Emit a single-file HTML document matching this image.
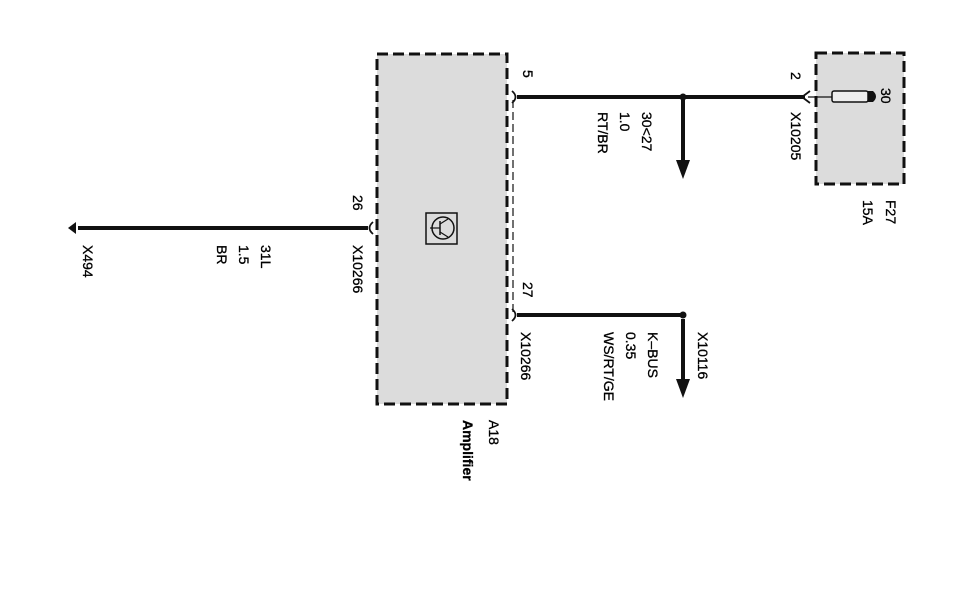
<!DOCTYPE html>
<html><head><style>
html,body{margin:0;padding:0;background:#fff;}
svg{display:block;}
text{font-family:"Liberation Sans",sans-serif;font-size:14px;fill:#000;stroke:#000;stroke-width:0.3;}
</style></head><body>
<svg width="973" height="609" viewBox="0 0 973 609">
<!-- amplifier box -->
<rect x="377" y="54" width="130" height="350" fill="#dcdcdc" stroke="#111" stroke-width="3" stroke-dasharray="11,5"/>
<line x1="513" y1="100" x2="513" y2="312" stroke="#111" stroke-width="1.2" stroke-dasharray="8,4"/>
<!-- fuse box -->
<rect x="816" y="53" width="88" height="131" fill="#dcdcdc" stroke="#111" stroke-width="3" stroke-dasharray="11,5"/>
<!-- transistor icon -->
<rect x="426" y="213" width="31" height="31" fill="none" stroke="#111" stroke-width="1.5"/>
<circle cx="443" cy="228" r="11" fill="none" stroke="#111" stroke-width="1.5"/>
<line x1="440" y1="221" x2="440" y2="235" stroke="#111" stroke-width="1.5"/>
<line x1="430" y1="228" x2="440" y2="228" stroke="#111" stroke-width="1.2"/>
<line x1="440" y1="224" x2="448" y2="219" stroke="#111" stroke-width="1.2"/>
<line x1="440" y1="232" x2="448" y2="237" stroke="#111" stroke-width="1.2"/>
<!-- wire 5 -->
<line x1="517" y1="97" x2="805" y2="97" stroke="#111" stroke-width="4"/>
<path d="M512 91 Q519 97 512 103" fill="none" stroke="#111" stroke-width="1.8"/>
<path d="M810 91 L802 97 L810 103" fill="none" stroke="#111" stroke-width="1.8"/>
<circle cx="683" cy="97" r="3.5" fill="#111"/>
<line x1="683" y1="100" x2="683" y2="163" stroke="#111" stroke-width="4"/>
<polygon points="676,160 690,160 683,179" fill="#111"/>
<!-- fuse -->
<line x1="808" y1="97" x2="832" y2="97" stroke="#111" stroke-width="1.2"/>
<rect x="832" y="91" width="36" height="11" rx="2" fill="#eee" stroke="#111" stroke-width="1.5"/>
<path d="M868 91 L873 91 Q879 96.5 873 102 L868 102 Z" fill="#111"/>
<!-- wire 26 -->
<line x1="78" y1="228" x2="368" y2="228" stroke="#111" stroke-width="4"/>
<polygon points="68,228 76,222 76,234" fill="#111"/>
<path d="M373 222 Q366 228 373 234" fill="none" stroke="#111" stroke-width="1.8"/>
<!-- wire 27 -->
<line x1="517" y1="315" x2="683" y2="315" stroke="#111" stroke-width="4"/>
<path d="M512 309 Q519 315 512 321" fill="none" stroke="#111" stroke-width="1.8"/>
<circle cx="683" cy="315" r="3.5" fill="#111"/>
<line x1="683" y1="319" x2="683" y2="382" stroke="#111" stroke-width="4"/>
<polygon points="676,379 690,379 683,398" fill="#111"/>
<!-- labels (rotated) -->
<g>
<text transform="translate(523,70) rotate(90)">5</text>
<text transform="translate(642,112) rotate(90)">30&lt;27</text>
<text transform="translate(620,112) rotate(90)">1.0</text>
<text transform="translate(598,112) rotate(90)">RT/BR</text>
<text transform="translate(791,72) rotate(90)">2</text>
<text transform="translate(791,112) rotate(90)">X10205</text>
<text transform="translate(881,88) rotate(90)">30</text>
<text transform="translate(886,200) rotate(90)">F27</text>
<text transform="translate(863,200) rotate(90)">15A</text>
<text transform="translate(353,195) rotate(90)">26</text>
<text transform="translate(353,245) rotate(90)">X10266</text>
<text transform="translate(261,245) rotate(90)">31L</text>
<text transform="translate(239,245) rotate(90)">1.5</text>
<text transform="translate(217,245) rotate(90)">BR</text>
<text transform="translate(83,245) rotate(90)">X494</text>
<text transform="translate(523,282) rotate(90)">27</text>
<text transform="translate(521,332) rotate(90)">X10266</text>
<text transform="translate(648,332) rotate(90)">K–BUS</text>
<text transform="translate(626,332) rotate(90)">0.35</text>
<text transform="translate(604,332) rotate(90)">WS/RT/GE</text>
<text transform="translate(698,332) rotate(90)">X10116</text>
<text transform="translate(489,420) rotate(90)">A18</text>
<text transform="translate(463,420) rotate(90)" font-weight="bold">Amplifier</text>
</g>
</svg>
</body></html>
